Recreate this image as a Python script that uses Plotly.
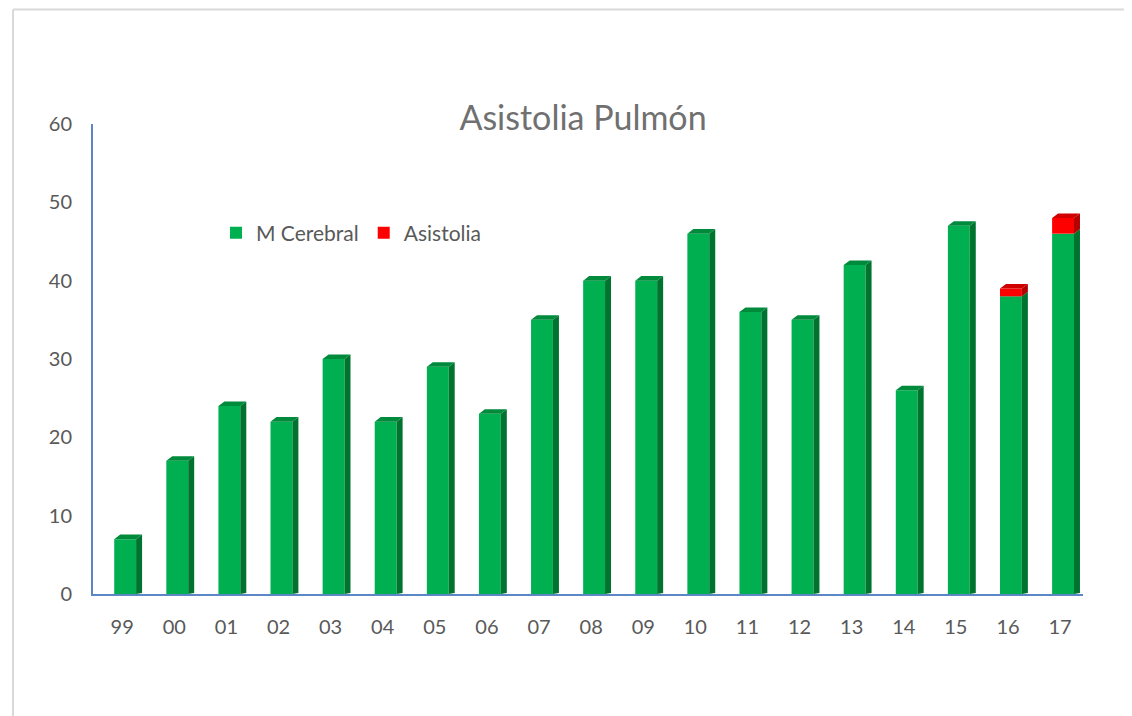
import plotly.graph_objects as go

years = ["99", "00", "01", "02", "03", "04", "05", "06", "07", "08",
         "09", "10", "11", "12", "13", "14", "15", "16", "17"]
m_cerebral = [7, 17, 24, 22, 30, 22, 29, 23, 35, 40, 40, 46, 36, 35, 42, 26, 47, 38, 46]
asistolia = [0, 0, 0, 0, 0, 0, 0, 0, 0, 0, 0, 0, 0, 0, 0, 0, 0, 1, 2]

GREEN, GREEN_SIDE, GREEN_TOP = "#00B050", "#00742F", "#008A3C"
RED, RED_SIDE, RED_TOP = "#FF0000", "#B30000", "#D00000"
GREY = "#595959"
AXIS = "#5B87C5"

idx = list(range(len(years)))
OFF, W = -0.153, 0.42      # front face offset / width (category units)
DX, DY = 0.115, 0.58       # depth offsets (x in category units, y in value units)

fig = go.Figure()
fig.add_trace(go.Bar(x=idx, y=m_cerebral, name="M Cerebral", marker_color=GREEN,
                     offset=OFF, width=W, marker_line_width=0))
fig.add_trace(go.Bar(x=idx, y=asistolia, name="Asistolia", marker_color=RED,
                     offset=OFF, width=W, marker_line_width=0,
                     base=m_cerebral))


def faces(bases, tops, with_top):
    sx, sy, tx, ty = [], [], [], []
    for i, b, t, wt in zip(idx, bases, tops, with_top):
        if t <= b:
            continue
        x0 = i + OFF
        x1 = x0 + W
        x2 = x1 + DX
        sx += [x1, x1, x2, x2, x1, None]
        sy += [b, t, t + DY, b + DY if b > 0 else DY * 0.2, b, None]
        if wt:
            tx += [x0, x1, x2, x0 + DX, x0, None]
            ty += [t, t, t + DY, t + DY, t, None]
    return sx, sy, tx, ty


g_top = [a == 0 for a in asistolia]
sx, sy, tx, ty = faces([0] * len(idx), m_cerebral, g_top)
for xs, ys, col in [(sx, sy, GREEN_SIDE), (tx, ty, GREEN_TOP)]:
    fig.add_trace(go.Scatter(x=xs, y=ys, fill="toself", fillcolor=col, mode="lines",
                             line=dict(width=0, color=col), showlegend=False,
                             hoverinfo="skip"))
r_tops = [m + a for m, a in zip(m_cerebral, asistolia)]
sx, sy, tx, ty = faces(m_cerebral, r_tops, [True] * len(idx))
for xs, ys, col in [(sx, sy, RED_SIDE), (tx, ty, RED_TOP)]:
    fig.add_trace(go.Scatter(x=xs, y=ys, fill="toself", fillcolor=col, mode="lines",
                             line=dict(width=0, color=col), showlegend=False,
                             hoverinfo="skip"))

# page body has an 8px margin: figure coords = screen coords - 8
S = 8
L, R, T, B = 93 - S, 1083 - S, 124 - S, 594 - S
pw, ph = R - L, B - T


def px(x):
    return (x - S - L) / pw


def py(y):
    return (B - (y - S)) / ph


fig.update_layout(
    width=1132, height=716,
    margin=dict(l=L, r=1132 - R, t=T, b=716 - B),
    paper_bgcolor="white", plot_bgcolor="white",
    barmode="overlay",
    font=dict(family="Lato, 'Open Sans', sans-serif", color=GREY, size=20),
    title=dict(text="Asistolia Pulmón", xref="paper", x=px(583), xanchor="center",
               yref="container", y=1 - (118 - S) / 716, yanchor="middle",
               font=dict(size=34, color="#707070")),
    legend=dict(orientation="h", x=px(216), xanchor="left", y=py(233), yanchor="middle",
                bgcolor="rgba(0,0,0,0)", font=dict(size=21, color=GREY),
                itemwidth=30, traceorder="normal"),
    xaxis=dict(range=[-0.56, 18.44], tickmode="array", tickvals=idx, ticktext=years,
               showgrid=False, zeroline=False, showline=True, linecolor=AXIS,
               linewidth=2, ticks="", ticklabelstandoff=14,
               tickfont=dict(size=20, color=GREY)),
    yaxis=dict(range=[0, 60], dtick=10, showgrid=False, zeroline=False,
               showline=True, linecolor=AXIS, linewidth=2, ticks="",
               ticklabelstandoff=15, tickfont=dict(size=20, color=GREY)),
    shapes=[
        dict(type="line", xref="paper", yref="paper",
             x0=px(13), x1=px(1140), y0=py(9.5), y1=py(9.5),
             line=dict(color="#D9D9D9", width=2), layer="below"),
        dict(type="line", xref="paper", yref="paper",
             x0=px(13), x1=px(13), y0=py(9.5), y1=py(730),
             line=dict(color="#D9D9D9", width=2), layer="below"),
    ],
)

fig.write_html("out.html")
